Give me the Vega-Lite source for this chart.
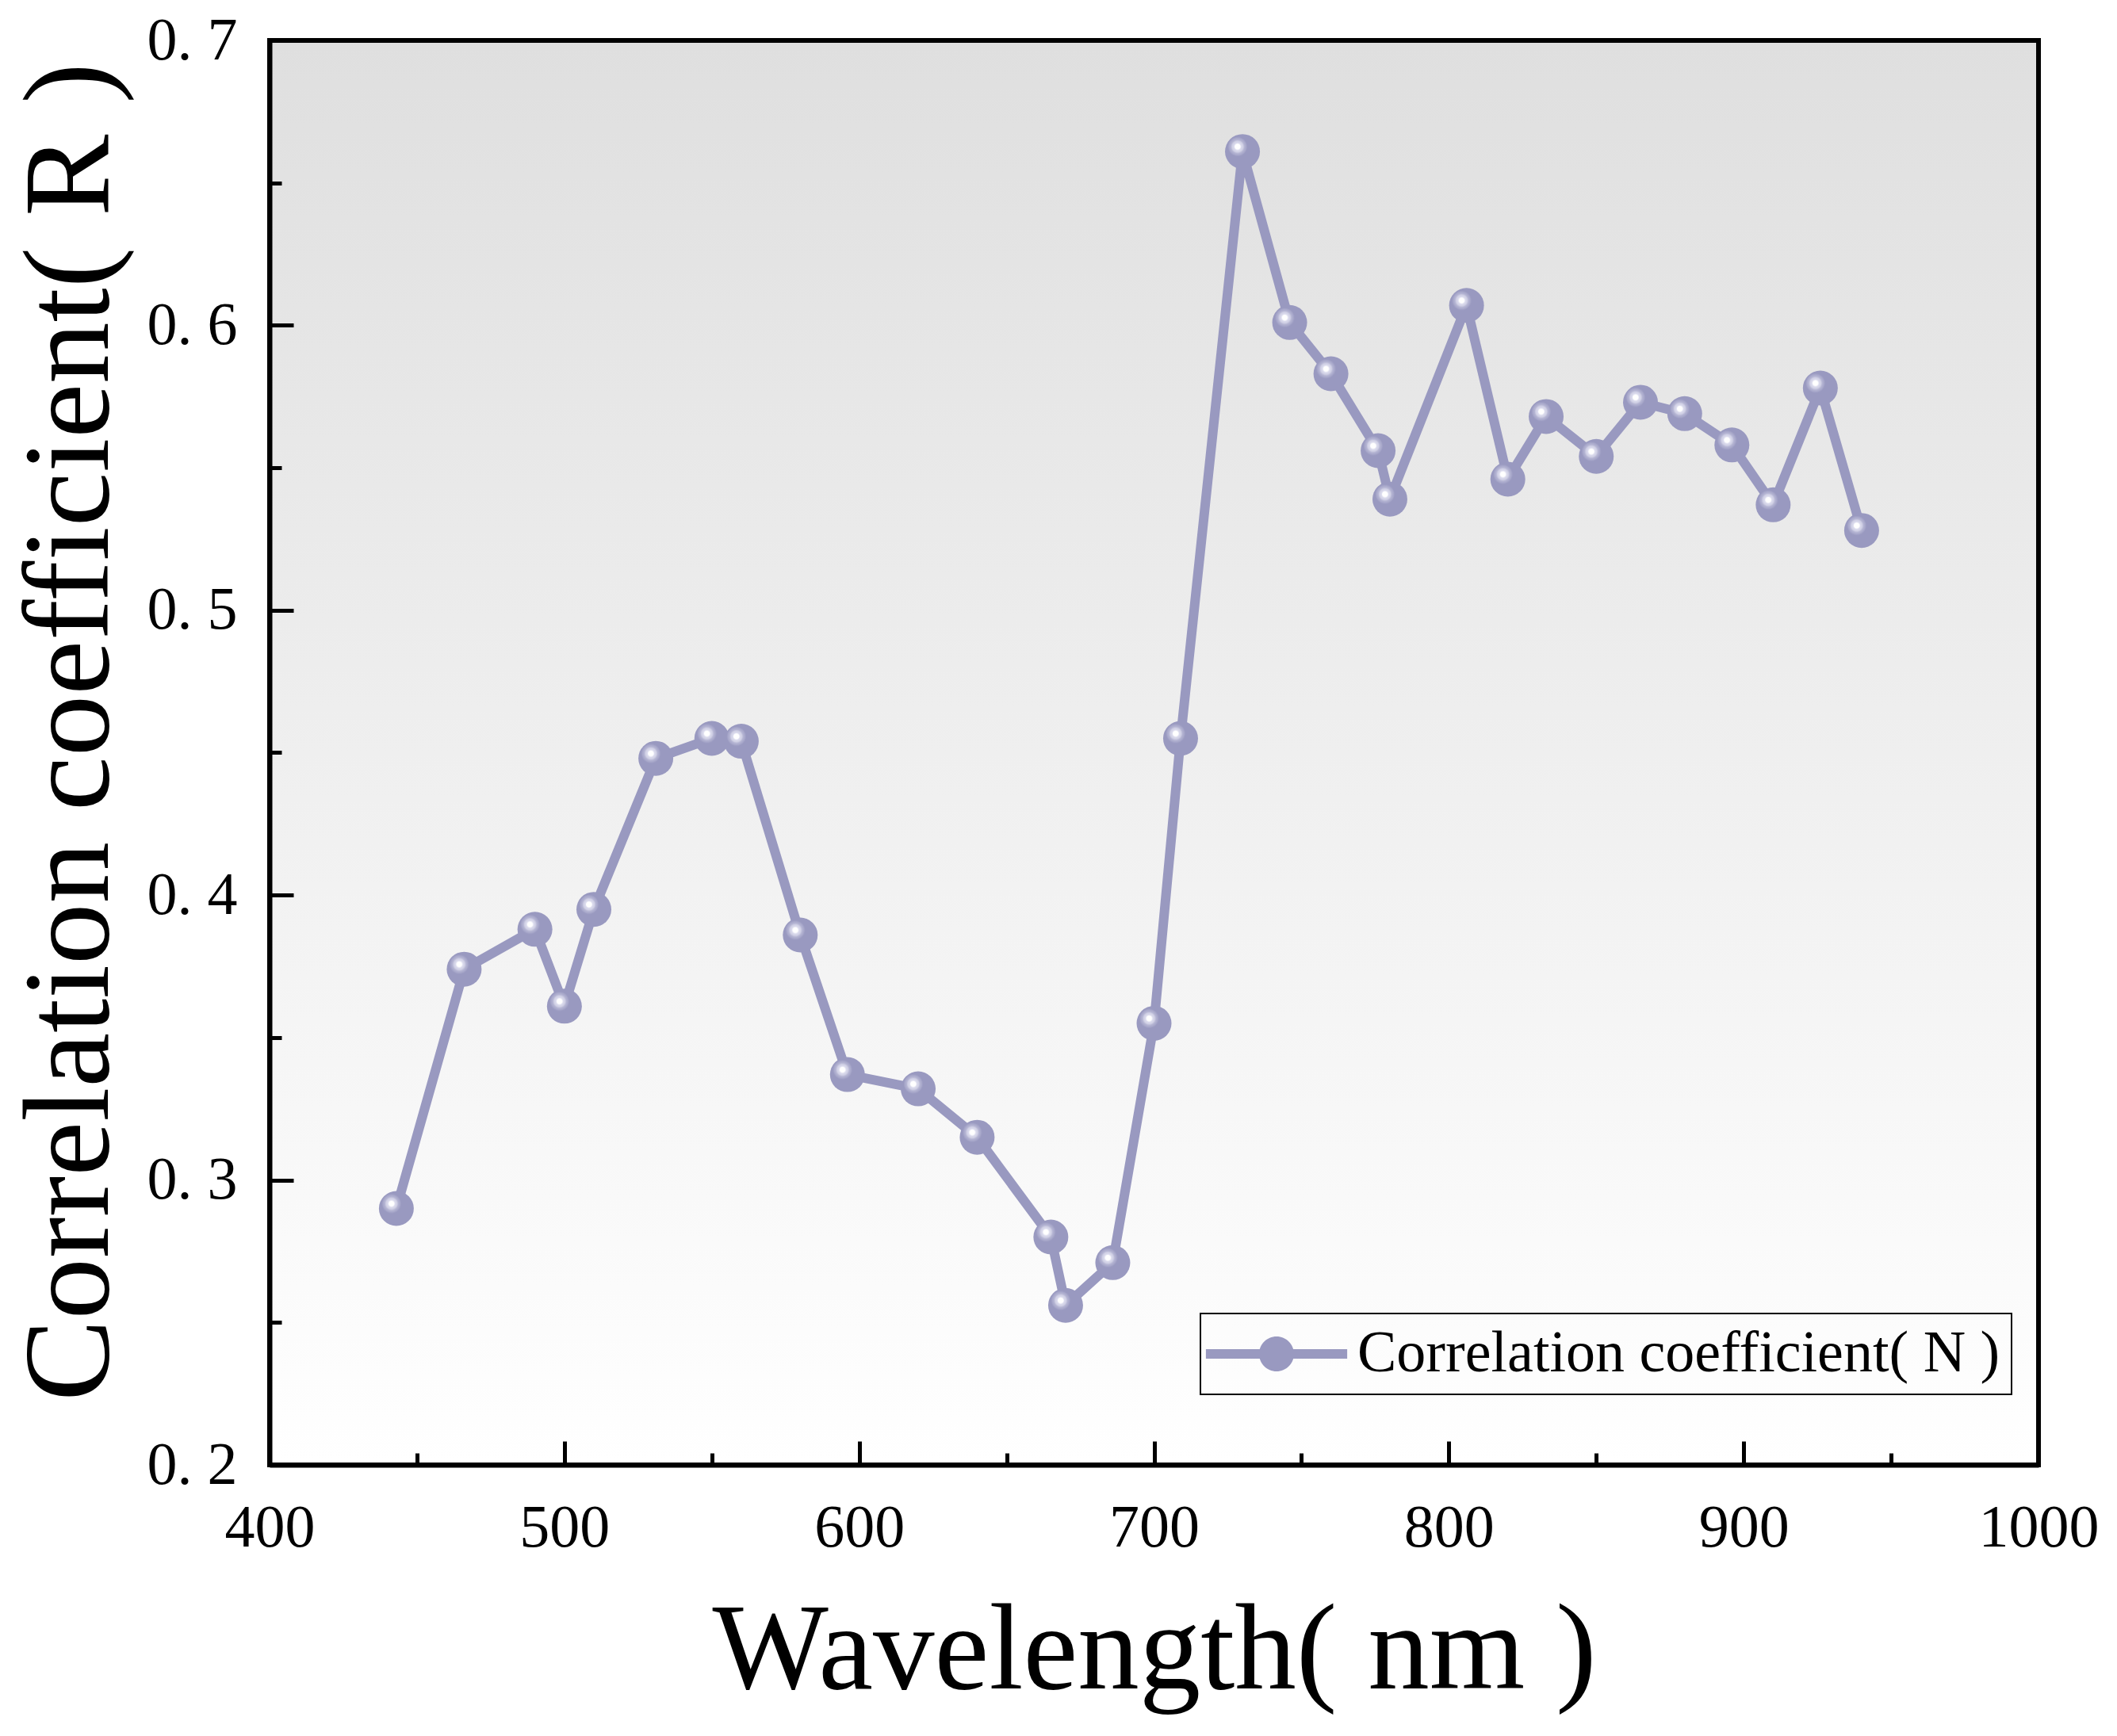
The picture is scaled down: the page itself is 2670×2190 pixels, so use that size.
{
  "$schema": "https://vega.github.io/schema/vega-lite/v6.json",
  "width": 2231,
  "height": 1797,
  "autosize": {"type": "none"},
  "padding": {"left": 340, "top": 51, "right": 99, "bottom": 342},
  "background": "white",
  "config": {
    "view": {"stroke": null},
    "font": "Liberation Serif"
  },
  "datasets": {
    "corr": [
      {"wl": 443, "r": 0.290, "series": "Correlation coefficient( N )"},
      {"wl": 466, "r": 0.374, "series": "Correlation coefficient( N )"},
      {"wl": 490, "r": 0.388, "series": "Correlation coefficient( N )"},
      {"wl": 500, "r": 0.361, "series": "Correlation coefficient( N )"},
      {"wl": 510, "r": 0.395, "series": "Correlation coefficient( N )"},
      {"wl": 531, "r": 0.448, "series": "Correlation coefficient( N )"},
      {"wl": 550, "r": 0.455, "series": "Correlation coefficient( N )"},
      {"wl": 560, "r": 0.454, "series": "Correlation coefficient( N )"},
      {"wl": 580, "r": 0.386, "series": "Correlation coefficient( N )"},
      {"wl": 596, "r": 0.337, "series": "Correlation coefficient( N )"},
      {"wl": 620, "r": 0.332, "series": "Correlation coefficient( N )"},
      {"wl": 640, "r": 0.315, "series": "Correlation coefficient( N )"},
      {"wl": 665, "r": 0.280, "series": "Correlation coefficient( N )"},
      {"wl": 670, "r": 0.256, "series": "Correlation coefficient( N )"},
      {"wl": 686, "r": 0.271, "series": "Correlation coefficient( N )"},
      {"wl": 700, "r": 0.355, "series": "Correlation coefficient( N )"},
      {"wl": 709, "r": 0.455, "series": "Correlation coefficient( N )"},
      {"wl": 730, "r": 0.661, "series": "Correlation coefficient( N )"},
      {"wl": 746, "r": 0.601, "series": "Correlation coefficient( N )"},
      {"wl": 760, "r": 0.583, "series": "Correlation coefficient( N )"},
      {"wl": 776, "r": 0.556, "series": "Correlation coefficient( N )"},
      {"wl": 780, "r": 0.539, "series": "Correlation coefficient( N )"},
      {"wl": 806, "r": 0.607, "series": "Correlation coefficient( N )"},
      {"wl": 820, "r": 0.546, "series": "Correlation coefficient( N )"},
      {"wl": 833, "r": 0.568, "series": "Correlation coefficient( N )"},
      {"wl": 850, "r": 0.554, "series": "Correlation coefficient( N )"},
      {"wl": 865, "r": 0.573, "series": "Correlation coefficient( N )"},
      {"wl": 880, "r": 0.569, "series": "Correlation coefficient( N )"},
      {"wl": 896, "r": 0.558, "series": "Correlation coefficient( N )"},
      {"wl": 910, "r": 0.537, "series": "Correlation coefficient( N )"},
      {"wl": 926, "r": 0.578, "series": "Correlation coefficient( N )"},
      {"wl": 940, "r": 0.528, "series": "Correlation coefficient( N )"}
    ],
    "bg": [{"panel": "plot"}]
  },
  "layer": [
    {
      "data": {"name": "bg"},
      "mark": {
        "type": "rect",
        "fill": {
          "gradient": "linear",
          "x1": 0, "y1": 0, "x2": 0, "y2": 1,
          "stops": [
            {"offset": 0, "color": "#dfdfdf"},
            {"offset": 1, "color": "#ffffff"}
          ]
        },
        "stroke": "black",
        "strokeWidth": 6
      },
      "encoding": {}
    },
    {
      "data": {"name": "corr"},
      "mark": {"type": "line", "strokeWidth": 12, "strokeJoin": "round", "strokeCap": "round"},
      "encoding": {
        "x": {
          "field": "wl",
          "type": "quantitative",
          "scale": {"domain": [400, 1000], "nice": false, "zero": false},
          "axis": {
            "title": "Wavelength( nm )",
            "orient": "bottom",
            "values": [400, 450, 500, 550, 600, 650, 700, 750, 800, 850, 900, 950, 1000],
            "labelExpr": "datum.value % 100 === 0 ? datum.label : ''",
            "format": "d",
            "labelFlush": false,
            "labelOverlap": false,
            "labelFont": "Liberation Serif",
            "labelFontSize": 76,
            "labelColor": "black",
            "labelPadding": 72,
            "tickSize": {"condition": {"test": "datum.value % 100 === 0", "value": -30}, "value": -15},
            "tickWidth": 5,
            "tickColor": "black",
            "domainColor": "black",
            "domainWidth": 6,
            "grid": false,
            "titleFont": "Liberation Serif",
            "titleFontSize": 155,
            "titleFontWeight": "normal",
            "titleColor": "black",
            "titlePadding": 27,
            "zindex": 1
          }
        },
        "y": {
          "field": "r",
          "type": "quantitative",
          "scale": {"domain": [0.2, 0.7], "nice": false, "zero": false},
          "axis": {
            "title": "Correlation coefficient( R )",
            "orient": "left",
            "values": [0.2, 0.25, 0.3, 0.35, 0.4, 0.45, 0.5, 0.55, 0.6, 0.65, 0.7],
            "labelExpr": "round(datum.value * 100) % 10 === 0 ? replace(format(datum.value, '.1f'), '.', '. ') : ''",
            "labelFlush": false,
            "labelOverlap": false,
            "labelFont": "Liberation Serif",
            "labelFontSize": 76,
            "labelColor": "black",
            "labelPadding": 71,
            "tickSize": {"condition": {"test": "round(datum.value * 100) % 10 === 0", "value": -30}, "value": -15},
            "tickWidth": 5,
            "tickColor": "black",
            "domainColor": "black",
            "domainWidth": 6,
            "grid": false,
            "titleFont": "Liberation Serif",
            "titleFontSize": 155,
            "titleFontWeight": "normal",
            "titleColor": "black",
            "titleX": -172,
            "titleY": 872,
            "zindex": 1
          }
        },
        "color": {
          "field": "series",
          "type": "nominal",
          "scale": {"range": ["#9999c0"]},
          "legend": {
            "title": null,
            "orient": "none",
            "legendX": 1174,
            "legendY": 1606,
            "padding": 14,
            "strokeColor": "black",
            "labelFont": "Liberation Serif",
            "labelFontSize": 74,
            "labelColor": "black",
            "labelLimit": 2000,
            "symbolOffset": 45,
            "labelOffset": 65,
            "symbolSize": 1936,
            "symbolType": "M-4.05,-0.27H4.05V0.27H-4.05Z M0,-1A1,1 0 0,1 0,1A1,1 0 0,1 0,-1Z",
            "symbolFillColor": "#9999c0",
            "symbolStrokeWidth": 0,
            "encode": {
              "legend": {
                "update": {
                  "strokeWidth": {"value": 2},
                  "stroke": {"value": "black"}
                }
              },
              "symbols": {
                "update": {
                  "fill": {"value": "#9999c0"},
                  "stroke": {"value": "transparent"},
                  "strokeWidth": {"value": 0}
                }
              }
            }
          }
        }
      }
    },
    {
      "data": {"name": "corr"},
      "mark": {
        "type": "point",
        "filled": true,
        "opacity": 1,
        "size": 1936,
        "shape": "circle",
        "strokeWidth": 0,
        "fill": {
          "gradient": "radial",
          "x1": 0.36, "y1": 0.36, "r1": 0,
          "x2": 0.36, "y2": 0.36, "r2": 0.5,
          "stops": [
            {"offset": 0, "color": "#ffffff"},
            {"offset": 0.15, "color": "#ffffff"},
            {"offset": 0.2, "color": "#dcdcee"},
            {"offset": 0.32, "color": "#cfcfe4"},
            {"offset": 0.38, "color": "#b6b6d4"},
            {"offset": 0.5, "color": "#a6a6c9"},
            {"offset": 0.56, "color": "#9999c0"},
            {"offset": 1, "color": "#9999c0"}
          ]
        }
      },
      "encoding": {
        "x": {"field": "wl", "type": "quantitative"},
        "y": {"field": "r", "type": "quantitative"}
      }
    }
  ]
}
